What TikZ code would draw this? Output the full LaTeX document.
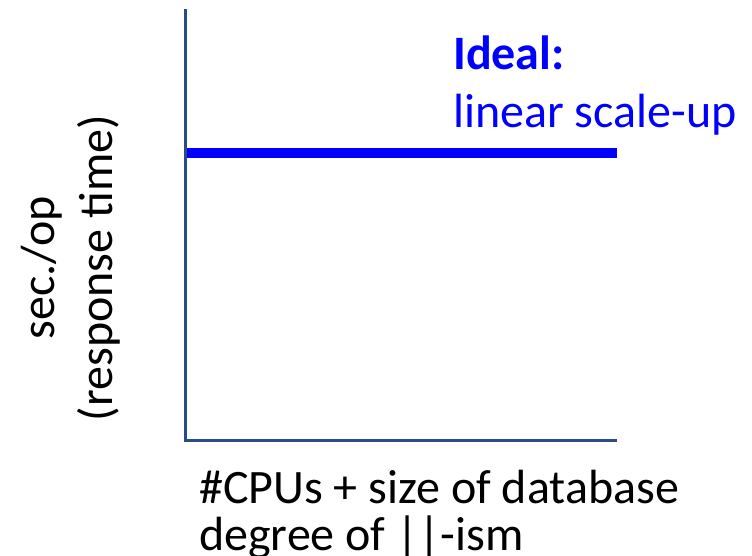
\documentclass[tikz,border=0pt]{standalone}
\usepackage{fontspec}
\setmainfont{Carlito}
\definecolor{axisblue}{RGB}{40,76,134}
\definecolor{idealblue}{RGB}{0,0,255}
\tikzset{
  axisline/.style={draw=axisblue, line width=3pt},
  idealline/.style={draw=idealblue, line width=10pt},
  lbl/.style={inner sep=0pt, font=\fontsize{48}{58}\selectfont}
}
\begin{document}
\begin{tikzpicture}[x=1pt,y=-1pt]
  \useasboundingbox (0,0) rectangle (752,555);
  % axes
  \coordinate (ytop) at (185,9);
  \coordinate (origin) at (185,440);
  \coordinate (xend) at (617,440);
  \draw[axisline] (ytop) -- (origin) -- (xend);
  % ideal curve: flat response time
  \coordinate (idealstart) at (186.5,153);
  \coordinate (idealend) at (617,153);
  \draw[idealline] (idealstart) -- (idealend);
  % labels (base anchor sits on the last line of a multi-line node)
  \node[lbl, text=idealblue, align=left, anchor=base west] (ideal) at (453,127)
    {\textbf{Ideal:}\\linear scale-up};
  \node[lbl, align=left, anchor=base west] (xlabel) at (199,550)
    {\#CPUs + size of database\\[-11pt]degree of ||-ism};
  \node[lbl, align=center, rotate=90] (ylabel) at (71,268)
    {sec./op\\(response time)};
\end{tikzpicture}
\end{document}
